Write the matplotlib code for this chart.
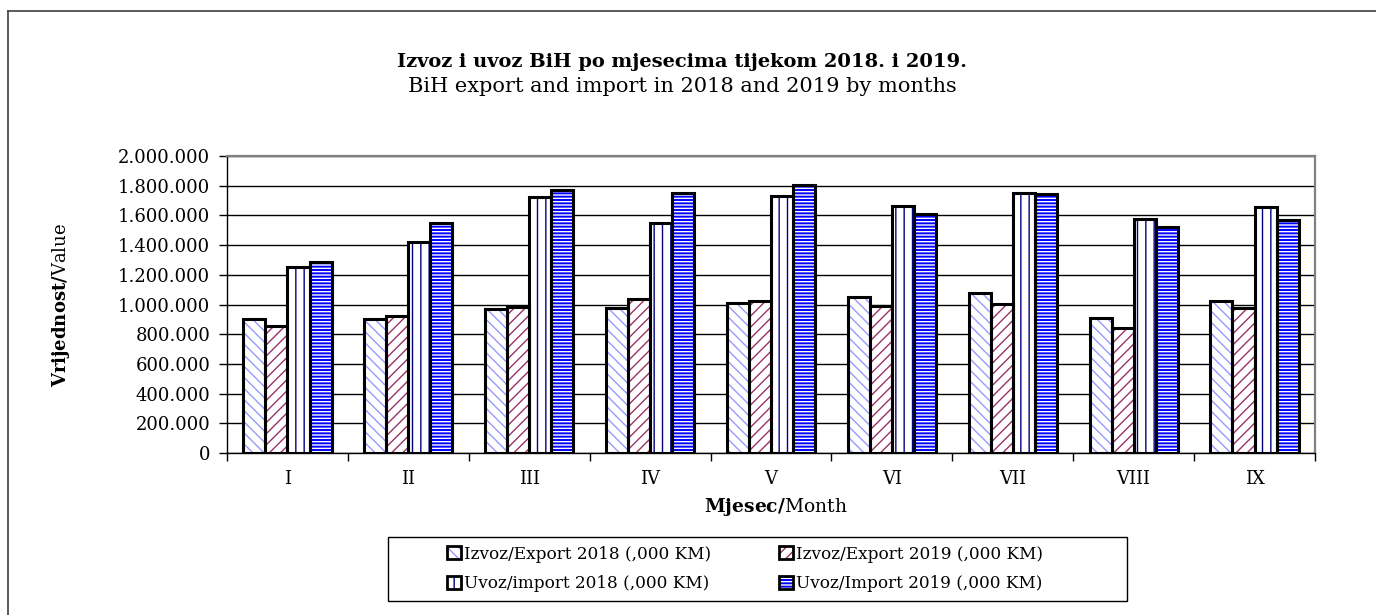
# coding=utf-8

import numpy as np
import matplotlib.pyplot as plt
from matplotlib.patches import Patch, Rectangle
from matplotlib.lines import Line2D
from matplotlib.ticker import FuncFormatter

plt.rcParams['font.family'] = ['DejaVu Serif']
plt.rcParams['mathtext.fontset'] = 'dejavuserif'
plt.rcParams['hatch.linewidth'] = 1.0

# podaci (,000 KM)
months = ["I", "II", "III", "IV", "V", "VI", "VII", "VIII", "IX"]
export_2018 = [904000, 904000, 970000, 976000, 1008000, 1053000, 1075000, 907000, 1024000]
export_2019 = [855000, 925000, 985000, 1035000, 1021000, 990000, 1003000, 839000, 979000]
import_2018 = [1254000, 1419000, 1724000, 1551000, 1729000, 1663000, 1751000, 1574000, 1657000]
import_2019 = [1288000, 1549000, 1769000, 1749000, 1807000, 1607000, 1744000, 1524000, 1569000]
series_names = ["Izvoz/Export 2018 (,000 KM)", "Izvoz/Export 2019 (,000 KM)",
                "Uvoz/import 2018 (,000 KM)", "Uvoz/Import 2019 (,000 KM)"]

# face, hatch, hatch colour
styles = [("white", "\\\\\\", "#9999FF"),
          ("white", "///", "#993366"),
          ("white", "||", "#000080"),
          ("#0000FF", "-----", "white")]

W, H = 1376, 615
fig = plt.figure(figsize=(W / 100, H / 100), dpi=100)
ax = fig.add_axes([227 / W, 1 - 453 / H, (1315 - 227) / W, 297 / H])
ax.set_axisbelow(True)
ax.grid(axis='y', color='black', lw=1)

x = np.arange(len(months))
bw = 0.1826
handles = []
for i, vals in enumerate([export_2018, export_2019, import_2018, import_2019]):
    fc, hatch, hc = styles[i]
    pos = x + (i - 1.5) * bw
    ax.bar(pos, vals, width=bw, color=fc, hatch=hatch, edgecolor=hc, lw=0, zorder=2)
    ax.bar(pos, vals, width=bw, fill=False, edgecolor='black', lw=2.2, zorder=3)
    handles.append((Patch(facecolor=fc, hatch=hatch, edgecolor=hc, lw=0),
                    Patch(fill=False, edgecolor='black', lw=2)))

ax.set_xlim(-0.5, len(months) - 0.5)
ax.set_ylim(0, 2000000)
ax.set_yticks(np.arange(0, 2000001, 200000))
ax.yaxis.set_major_formatter(FuncFormatter(lambda v, p: f"{int(v):,}".replace(",", ".")))
ax.set_xticks(np.arange(-0.5, len(months), 1))
ax.set_xticklabels([])
ax.set_xticks(x, minor=True)
ax.set_xticklabels(months, minor=True, fontsize=13)
ax.tick_params(axis='x', which='major', length=6, width=1, direction='out')
ax.tick_params(axis='x', which='minor', length=0, pad=12)
ax.tick_params(axis='y', length=6, width=1, direction='out', labelsize=13, pad=6)

for s in ['top', 'right']:
    ax.spines[s].set_color('#808080')
    ax.spines[s].set_linewidth(1.6)
for s in ['left', 'bottom']:
    ax.spines[s].set_color('black')
    ax.spines[s].set_linewidth(1)

# titles and labels
fig.text(682 / W, 1 - 62 / H, "Izvoz i uvoz BiH po mjesecima tijekom 2018. i 2019.",
         ha='center', va='center', fontsize=14, fontweight='bold')
fig.text(682 / W, 1 - 86 / H, "BiH export and import in 2018 and 2019 by months",
         ha='center', va='center', fontsize=15)
fig.text(61 / W, 1 - 305 / H, r"$\mathbf{Vrijednost/}\mathrm{Value}$",
         ha='center', va='center', rotation=90, fontsize=13)
fig.text(776 / W, 1 - 507 / H, r"$\mathbf{Mjesec/}\mathrm{Month}$",
         ha='center', va='center', fontsize=13.5)

# legend (row order: export 2018, export 2019 / import 2018, import 2019)
order = [0, 2, 1, 3]
leg = fig.legend([handles[k] for k in order], [series_names[k] for k in order],
                 ncol=2, loc='center', bbox_to_anchor=(745 / W, 1 - 569 / H),
                 fontsize=12.2, frameon=False,
                 handlelength=0.8, handleheight=0.8,
                 handletextpad=0.2, columnspacing=4.0, labelspacing=0.75)
fig.add_artist(Rectangle((388 / W, 1 - 601 / H), (1127 - 388) / W, 64 / H,
                         fill=False, edgecolor='black', lw=1,
                         transform=fig.transFigure))

# outer chart border (top and left visible)
fig.add_artist(Line2D([7.5 / W, 7.5 / W], [0, 1 - 11 / H], color='#404040', lw=1.2,
                      transform=fig.transFigure))
fig.add_artist(Line2D([7.5 / W, 1], [1 - 11 / H, 1 - 11 / H], color='#404040', lw=1.2,
                      transform=fig.transFigure))

fig.savefig('out.png', dpi=100)
